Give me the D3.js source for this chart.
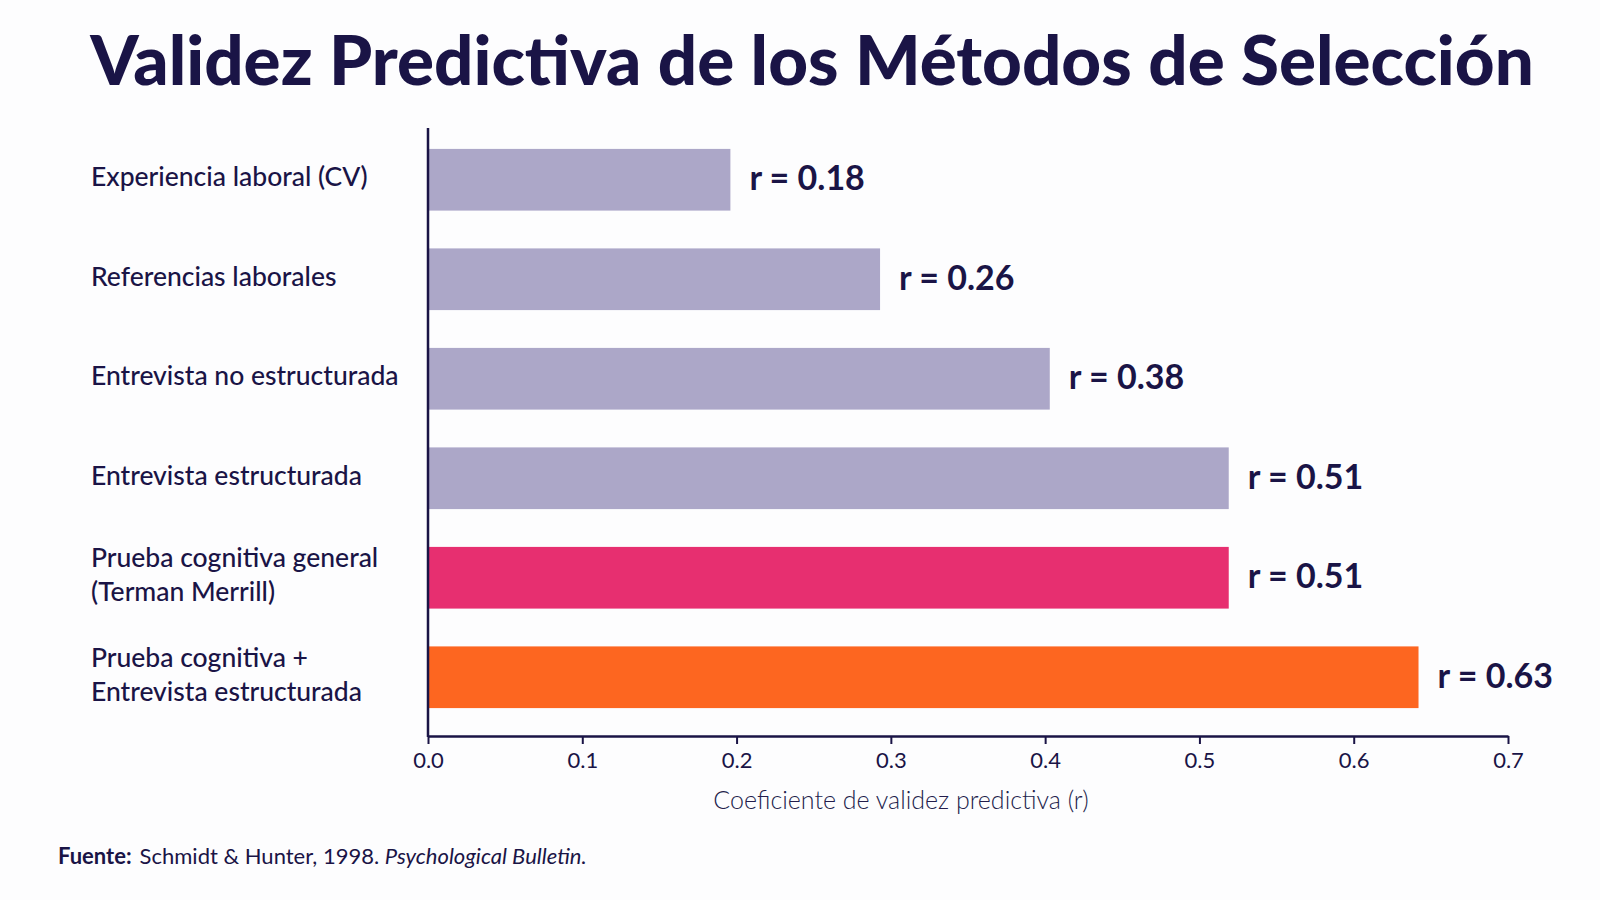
<!DOCTYPE html>
<html lang="es">

<head>
    <meta charset="utf-8">
    <script src="https://d3js.org/d3.v7.min.js"></script>
    <style>
        body {
            margin: 0;
            background: #fdfdfe;
            font-family: Lato, "Noto Sans", sans-serif;
        }
    </style>
</head>

<body>
    <script>
        // data
        const methods = [
            ["Experiencia laboral (CV)"],
            ["Referencias laborales"],
            ["Entrevista no estructurada"],
            ["Entrevista estructurada"],
            ["Prueba cognitiva general", "(Terman Merrill)"],
            ["Prueba cognitiva +", "Entrevista estructurada"]
        ];
        // printed r values
        const rValues = [0.18, 0.26, 0.38, 0.51, 0.51, 0.63];
        // bar lengths as drawn in the picture
        const barLengths = [0.196, 0.293, 0.403, 0.519, 0.519, 0.642];
        const barColors = ["#aca7c8", "#aca7c8", "#aca7c8", "#aca7c8", "#e72f70", "#fd6620"];
        const xTicks = [0, 0.1, 0.2, 0.3, 0.4, 0.5, 0.6, 0.7];

        const width = 1600,
            height = 900;
        const navy = "#1a1446";

        const svg = d3.select("body")
            .append("svg")
            .attr("width", width)
            .attr("height", height);

        // title, fitted to the width of the original
        const title = svg.append("text")
            .attr("x", 812)
            .attr("y", 85)
            .attr("text-anchor", "middle")
            .attr("fill", navy)
            .style("font-weight", 900)
            .style("font-size", "60px")
            .text("Validez Predictiva de los Métodos de Selección");
        const tw = title.node().getComputedTextLength();
        title.style("font-size", (60 * 1444 / tw) + "px");

        const x = d3.scaleLinear()
            .domain([0, 0.7])
            .range([428, 1508]);

        const y = d3.scaleBand()
            .domain(d3.range(methods.length))
            .range([130, 727])
            .paddingInner(0.38)
            .paddingOuter(0.19);

        // bars
        svg.selectAll(".bar")
            .data(barLengths)
            .enter()
            .append("rect")
            .attr("class", "bar")
            .attr("x", x(0))
            .attr("y", (d, i) => y(i))
            .attr("width", d => x(d) - x(0))
            .attr("height", y.bandwidth())
            .attr("fill", (d, i) => barColors[i]);

        // value labels
        svg.selectAll(".val")
            .data(rValues)
            .enter()
            .append("text")
            .attr("class", "val")
            .attr("x", (d, i) => x(barLengths[i]) + 19)
            .attr("y", (d, i) => y(i) + y.bandwidth() / 2 + 2)
            .attr("dominant-baseline", "middle")
            .attr("fill", navy)
            .style("font-weight", 700)
            .style("font-size", "34px")
            .text(d => "r = " + d.toFixed(2));

        // category labels
        const cat = svg.selectAll(".cat")
            .data(methods)
            .enter()
            .append("text")
            .attr("class", "cat")
            .attr("x", 91)
            .attr("y", (d, i) => y(i) + y.bandwidth() / 2 - 3 - (d.length - 1) * 17)
            .attr("fill", navy)
            .style("font-size", "26.5px")
            .style("font-weight", 500);
        cat.selectAll("tspan")
            .data(d => d)
            .enter()
            .append("tspan")
            .attr("x", 91)
            .attr("dy", (d, i) => i === 0 ? "0.35em" : "34px")
            .text(d => d);

        // x axis
        const xAxis = svg.append("g")
            .attr("transform", "translate(0,736)")
            .call(d3.axisBottom(x)
                .tickValues(xTicks)
                .tickFormat(d3.format(".1f"))
                .tickSize(8)
                .tickSizeOuter(0)
                .tickPadding(8));
        xAxis.select(".domain").attr("stroke", navy).attr("stroke-width", 2.5);
        xAxis.selectAll(".tick line").attr("stroke", navy).attr("stroke-width", 2);
        xAxis.selectAll(".tick text")
            .attr("fill", navy)
            .style("font-family", "Lato, sans-serif")
            .style("font-size", "22px");

        // y axis line
        svg.append("line")
            .attr("x1", x(0))
            .attr("x2", x(0))
            .attr("y1", 128)
            .attr("y2", 737)
            .attr("stroke", navy)
            .attr("stroke-width", 2.5);

        // axis title
        svg.append("text")
            .attr("x", 901)
            .attr("y", 809)
            .attr("text-anchor", "middle")
            .attr("fill", "#231d4c")
            .style("font-size", "25px")
            .style("font-weight", 300)
            .text("Coeficiente de validez predictiva (r)");

        // source
        const src = svg.append("text")
            .attr("x", 58)
            .attr("y", 864)
            .attr("fill", navy)
            .style("font-size", "22px");
        src.append("tspan").style("font-weight", 700).text("Fuente:");
        src.append("tspan").attr("dx", 8).text("Schmidt & Hunter, 1998. ");
        src.append("tspan").style("font-style", "italic").text("Psychological Bulletin.");
    </script>
</body>

</html>
